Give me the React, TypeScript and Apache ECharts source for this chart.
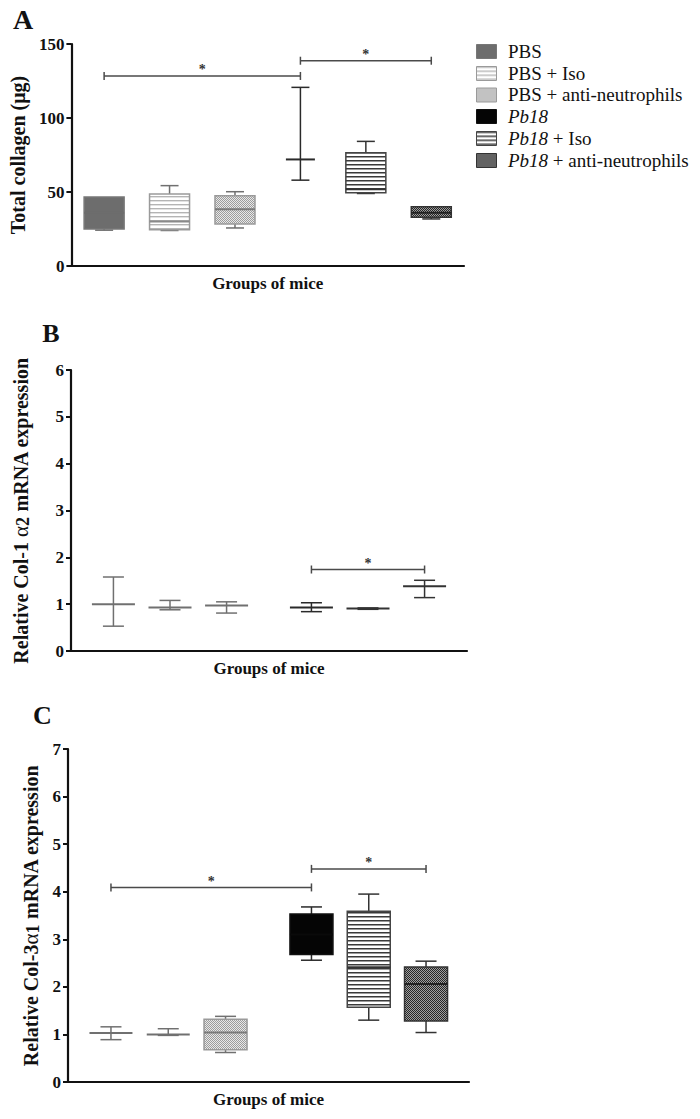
import React, { useEffect, useRef } from "react";
import * as echarts from "echarts";

// ---------- data ----------
const groups = [
  "PBS",
  "PBS + Iso",
  "PBS + anti-neutrophils",
  "Pb18",
  "Pb18 + Iso",
  "Pb18 + anti-neutrophils",
];

// group positions along the (hidden) x value axis of each panel
const xPosA = [0.5, 1.5, 2.5, 3.5, 4.5, 5.5];
const xPosB = [0.75, 1.75, 2.75, 4.25, 5.25, 6.25];
const xPosC = [0.75, 1.75, 2.75, 4.25, 5.25, 6.25];

// [min, q1, median, q3, max]
const collagenA = [
  [24.2, 25, 36, 46.6, 46.6],
  [24, 24.5, 30, 48.6, 54.3],
  [25.7, 28.4, 38.3, 47.5, 50.2],
  [58, 72, 72, 72, 120.7],
  [49, 49.5, 51.8, 76.6, 84.2],
  [31.8, 33, 36, 40, 40],
];
const col1a2B = [
  [0.53, 1.0, 1.0, 1.0, 1.58],
  [0.88, 0.93, 0.93, 0.93, 1.08],
  [0.81, 0.97, 0.97, 0.97, 1.05],
  [0.84, 0.93, 0.93, 0.93, 1.03],
  [0.89, 0.91, 0.91, 0.91, 0.92],
  [1.14, 1.38, 1.38, 1.38, 1.51],
];
const col3a1C = [
  [0.89, 1.03, 1.03, 1.03, 1.16],
  [0.98, 1.0, 1.0, 1.0, 1.12],
  [0.62, 0.68, 1.04, 1.32, 1.38],
  [2.56, 2.68, 3.1, 3.53, 3.68],
  [1.3, 1.57, 2.41, 3.59, 3.95],
  [1.04, 1.28, 2.06, 2.42, 2.54],
];

// significance brackets: [fromGroup, toGroup, y]
const sigA = [
  [0, 3, 128.4],
  [3, 5, 138.7],
];
const sigB = [[3, 5, 1.74]];
const sigC = [
  [0, 3, 4.09],
  [3, 5, 4.48],
];

const yTicksA = { max: 150, interval: 50 };
const yTicksB = { max: 6, interval: 1 };
const yTicksC = { max: 7, interval: 1 };

// ---------- styles ----------
const FONT = '"Liberation Serif", "Times New Roman", serif';

type GroupStyle = { fill: string; stroke: string; line: string; median: string };
const groupStyles: GroupStyle[] = [
  { fill: "solidGray", stroke: "#777777", line: "#707070", median: "#6d6d6d" },
  { fill: "stripesLight", stroke: "#9a9a9a", line: "#707070", median: "#8a8a8a" },
  { fill: "dotsLight", stroke: "#9a9a9a", line: "#707070", median: "#7a7a7a" },
  { fill: "solidBlack", stroke: "#111111", line: "#2a2a2a", median: "#0a0a0a" },
  { fill: "stripesDark", stroke: "#444444", line: "#333333", median: "#333333" },
  { fill: "dotsDark", stroke: "#333333", line: "#333333", median: "#222222" },
];

function makePattern(w: number, h: number, draw: (ctx: CanvasRenderingContext2D) => void) {
  const c = document.createElement("canvas");
  c.width = w;
  c.height = h;
  const ctx = c.getContext("2d") as CanvasRenderingContext2D;
  draw(ctx);
  return { image: c.toDataURL(), repeat: "repeat", imageWidth: w, imageHeight: h };
}

function buildPatterns(): Record<string, any> {
  const stripes = (line: string, soft: string) =>
    makePattern(4, 4, (ctx) => {
      ctx.fillStyle = "#ffffff";
      ctx.fillRect(0, 0, 4, 4);
      ctx.fillStyle = line;
      ctx.fillRect(0, 0, 4, 1);
      ctx.fillStyle = soft;
      ctx.fillRect(0, 1, 4, 1);
    });
  const dots = (a: string, b: string) =>
    makePattern(2, 2, (ctx) => {
      ctx.fillStyle = b;
      ctx.fillRect(0, 0, 2, 2);
      ctx.fillStyle = a;
      ctx.fillRect(0, 0, 1, 1);
      ctx.fillRect(1, 1, 1, 1);
    });
  return {
    solidGray: "#6d6d6d",
    stripesLight: stripes("#b4b4b4", "#e2e2e2"),
    dotsLight: dots("#9c9c9c", "#e8e8e8"),
    solidBlack: "#050505",
    stripesDark: stripes("#3a3a3a", "#9a9a9a"),
    dotsDark: dots("#262626", "#a0a0a0"),
  };
}

type Panel = {
  xPos: number[];
  stats: number[][];
  sig: number[][];
  boxW: number;
  capW: number;
  meanW: number;
};

const panels: Panel[] = [
  { xPos: xPosA, stats: collagenA, sig: sigA, boxW: 40, capW: 18, meanW: 29 },
  { xPos: xPosB, stats: col1a2B, sig: sigB, boxW: 43, capW: 21, meanW: 43 },
  { xPos: xPosC, stats: col3a1C, sig: sigC, boxW: 43, capW: 21, meanW: 43 },
];

export default function App() {
  const ref = useRef<HTMLDivElement>(null);

  useEffect(() => {
    document.body.style.margin = "0";
    if (!ref.current) return;
    const chart = echarts.init(ref.current, undefined, { renderer: "svg" });
    const patterns = buildPatterns();

    const grids = [
      { left: 70, width: 394, top: 44, height: 222 },
      { left: 71, width: 396, top: 370, height: 281 },
      { left: 68, width: 401, top: 749, height: 333 },
    ];
    const xMax = [6, 7, 7];
    const yCfg = [yTicksA, yTicksB, yTicksC];
    const yNames = [
      "Total collagen (μg)",
      "Relative Col-1 {g|α}{s|2} mRNA expression",
      "Relative Col-3{g|α}{s|1} mRNA expression",
    ];
    const yNameGaps = [40, 39, 23];

    const xAxis = grids.map((_, i) => ({
      type: "value",
      gridIndex: i,
      min: 0,
      max: xMax[i],
      axisLine: { show: true, lineStyle: { color: "#111", width: 2.2 } },
      axisTick: { show: false },
      axisLabel: { show: false },
      splitLine: { show: false },
      name: "Groups of mice",
      nameLocation: "middle",
      nameGap: 9,
      nameTextStyle: { fontFamily: FONT, fontWeight: "bold", fontSize: 17, color: "#111" },
    }));

    const yAxis = grids.map((_, i) => ({
      type: "value",
      gridIndex: i,
      min: 0,
      max: yCfg[i].max,
      interval: yCfg[i].interval,
      axisLine: { show: true, lineStyle: { color: "#111", width: 2.2 } },
      axisTick: { show: true, length: 5, lineStyle: { color: "#111", width: 2 } },
      axisLabel: {
        fontFamily: FONT,
        fontWeight: "bold",
        fontSize: 17,
        color: "#111",
        margin: 7,
      },
      splitLine: { show: false },
      name: yNames[i],
      nameLocation: "middle",
      nameRotate: 90,
      nameGap: yNameGaps[i],
      nameTextStyle: {
        fontFamily: FONT,
        fontWeight: "bold",
        fontSize: 20,
        color: "#111",
        rich: {
          g: { fontFamily: FONT, fontWeight: "normal", fontSize: 21, color: "#111" },
          s: { fontFamily: FONT, fontWeight: "bold", fontSize: 18, color: "#111", padding: [4, 0, 0, 0] },
        },
      },
    }));

    const series: any[] = [];
    panels.forEach((p, pi) => {
      const data = p.stats.map((s, gi) => [p.xPos[gi], s[0], s[1], s[2], s[3], s[4], gi]);
      series.push({
        type: "custom",
        name: "groups" + pi,
        xAxisIndex: pi,
        yAxisIndex: pi,
        itemStyle: { color: "#333" },
        dimensions: ["x", "min", "q1", "median", "q3", "max", "g"],
        encode: { x: 0, y: [1, 2, 3, 4, 5] },
        data,
        renderItem: (_params: any, api: any) => {
          const x = api.value(0);
          const mn = api.value(1);
          const q1 = api.value(2);
          const md = api.value(3);
          const q3 = api.value(4);
          const mx = api.value(5);
          const st = groupStyles[api.value(6)];
          const cx = api.coord([x, mn])[0];
          const yMin = api.coord([x, mn])[1];
          const yQ1 = api.coord([x, q1])[1];
          const yMd = api.coord([x, md])[1];
          const yQ3 = api.coord([x, q3])[1];
          const yMax = api.coord([x, mx])[1];
          const hb = p.boxW / 2;
          const hc = p.capW / 2;
          const ls = { stroke: st.line, lineWidth: 1.5 };
          const ch: any[] = [];
          if (mx > q3) {
            ch.push({ type: "line", shape: { x1: cx, y1: yQ3, x2: cx, y2: yMax }, style: ls });
            ch.push({ type: "line", shape: { x1: cx - hc, y1: yMax, x2: cx + hc, y2: yMax }, style: ls });
          }
          if (mn < q1) {
            ch.push({ type: "line", shape: { x1: cx, y1: yQ1, x2: cx, y2: yMin }, style: ls });
            ch.push({ type: "line", shape: { x1: cx - hc, y1: yMin, x2: cx + hc, y2: yMin }, style: ls });
          }
          if (q3 > q1) {
            ch.push({
              type: "rect",
              shape: { x: cx - hb, y: yQ3, width: hb * 2, height: yQ1 - yQ3 },
              style: { fill: patterns[st.fill], stroke: st.stroke, lineWidth: 1.5 },
            });
            ch.push({
              type: "line",
              shape: { x1: cx - hb, y1: yMd, x2: cx + hb, y2: yMd },
              style: { stroke: st.median, lineWidth: 2 },
            });
          } else {
            const hm = p.meanW / 2;
            ch.push({
              type: "line",
              shape: { x1: cx - hm, y1: yMd, x2: cx + hm, y2: yMd },
              style: { stroke: st.line, lineWidth: 2 },
            });
          }
          return { type: "group", children: ch };
        },
      });

      const sigData = p.sig.map((s) => [p.xPos[s[0]], s[2], p.xPos[s[1]]]);
      series.push({
        type: "custom",
        name: "sig" + pi,
        xAxisIndex: pi,
        yAxisIndex: pi,
        itemStyle: { color: "#333" },
        encode: { x: [0, 2], y: 1 },
        data: sigData,
        renderItem: (_params: any, api: any) => {
          const a = api.coord([api.value(0), api.value(1)]);
          const b = api.coord([api.value(2), api.value(1)]);
          const ls = { stroke: "#4a4a4a", lineWidth: 1.5 };
          return {
            type: "group",
            children: [
              { type: "line", shape: { x1: a[0], y1: a[1], x2: b[0], y2: b[1] }, style: ls },
              { type: "line", shape: { x1: a[0], y1: a[1] - 4, x2: a[0], y2: a[1] + 4 }, style: ls },
              { type: "line", shape: { x1: b[0], y1: b[1] - 4, x2: b[0], y2: b[1] + 4 }, style: ls },
              {
                type: "text",
                style: {
                  text: "*",
                  x: (a[0] + b[0]) / 2,
                  y: a[1] - 6,
                  align: "center",
                  verticalAlign: "middle",
                  fontFamily: FONT,
                  fontWeight: "bold",
                  fontSize: 14,
                  fill: "#333333",
                },
              },
            ],
          };
        },
      });
    });

    // legend (drawn with graphic elements to show the fill patterns)
    const legendRows = [51, 73, 94.5, 116, 138, 160];
    const legendGraphics: any[] = [];
    groups.forEach((g, i) => {
      const st = groupStyles[i];
      legendGraphics.push({
        type: "rect",
        left: 476,
        top: legendRows[i] - 7,
        shape: { x: 0, y: 0, width: 20, height: 14 },
        style: { fill: patterns[st.fill], stroke: st.stroke, lineWidth: 1 },
      });
      const isPb = g.startsWith("Pb18");
      const txt = isPb ? "{i|Pb18}" + g.slice(4) : g;
      legendGraphics.push({
        type: "text",
        x: 508,
        y: legendRows[i],
        style: {
          text: txt,
          fontFamily: FONT,
          fontSize: 19,
          fill: "#111",
          verticalAlign: "middle",
          align: "left",
          rich: { i: { fontFamily: FONT, fontStyle: "italic", fontSize: 19, fill: "#111" } },
        },
      });
    });

    const letters = [
      { t: "A", x: 23, y: 19.5, s: 28 },
      { t: "B", x: 51, y: 333.5, s: 26 },
      { t: "C", x: 42.5, y: 715.5, s: 26 },
    ];
    const letterGraphics = letters.map((l) => ({
      type: "text",
      x: l.x,
      y: l.y,
      style: {
        text: l.t,
        fontFamily: FONT,
        fontWeight: "bold",
        fontSize: l.s,
        fill: "#111",
        align: "center",
        verticalAlign: "middle",
      },
    }));

    chart.setOption({
      animation: false,
      backgroundColor: "#ffffff",
      grid: grids,
      xAxis,
      yAxis,
      series,
      graphic: [...legendGraphics, ...letterGraphics],
    });

    return () => chart.dispose();
  }, []);

  return <div ref={ref} style={{ width: 700, height: 1119 }} />;
}
